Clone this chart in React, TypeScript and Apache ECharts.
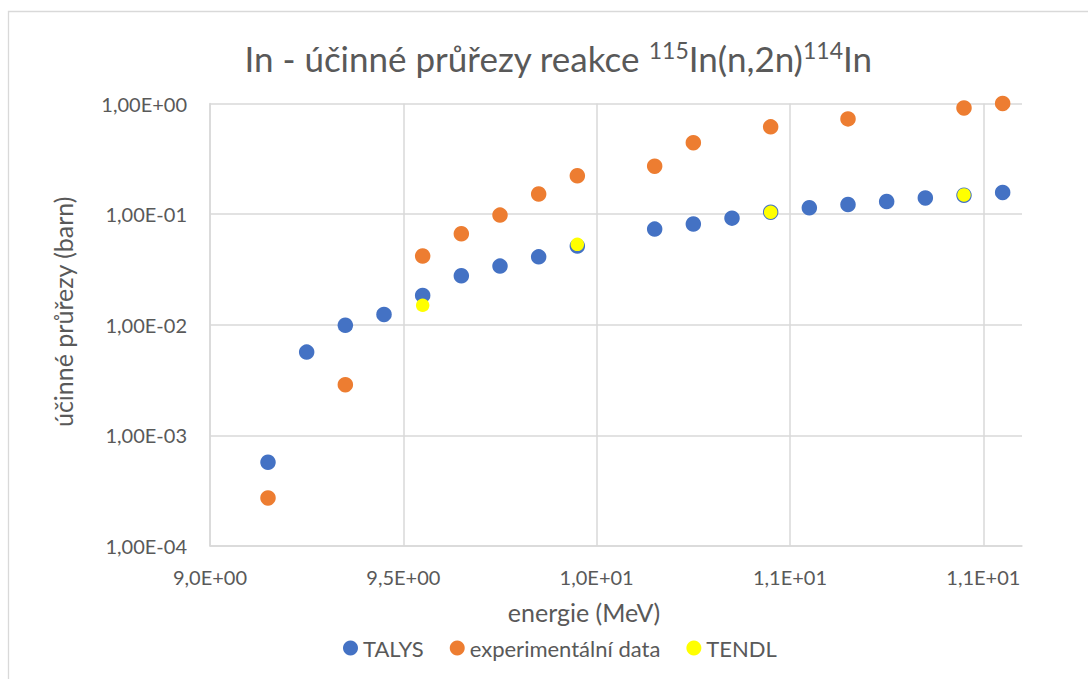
import React, { useEffect, useRef } from "react";
import * as echarts from "echarts";

const talysEnergy = [9.15, 9.25, 9.35, 9.45, 9.55, 9.65, 9.75, 9.85, 9.95, 10.15, 10.25, 10.35, 10.45, 10.55, 10.65, 10.75, 10.85, 10.95, 11.05];
const talysValues = [5.71e-4, 5.66e-3, 9.88e-3, 1.24e-2, 1.84e-2, 2.77e-2, 3.39e-2, 4.11e-2, 5.14e-2, 7.32e-2, 8.13e-2, 9.2e-2, 1.04e-1, 1.14e-1, 1.22e-1, 1.30e-1, 1.40e-1, 1.48e-1, 1.57e-1];

const expEnergy = [9.15, 9.35, 9.55, 9.65, 9.75, 9.85, 9.95, 10.15, 10.25, 10.45, 10.65, 10.95, 11.05];
const expValues = [2.72e-4, 2.87e-3, 4.18e-2, 6.64e-2, 9.8e-2, 1.52e-1, 2.22e-1, 2.71e-1, 4.42e-1, 6.15e-1, 7.26e-1, 9.12e-1, 1.0];

const tendlEnergy = [9.55, 9.95, 10.45, 10.95];
const tendlValues = [1.5e-2, 5.33e-2, 1.04e-1, 1.49e-1];

const seriesNames = ["TALYS", "experimentální data", "TENDL"];
const xAxisTitle = "energie (MeV)";
const yAxisTitle = "účinné průřezy (barn)";

const FONT = "Lato";
const TXT = "#595959";
const GRID = "#d9d9d9";

function sci(v: number, digits: number): string {
  const s = Number(v).toExponential(digits);
  const [m, e] = s.split("e");
  const sign = e[0] === "-" ? "-" : "+";
  const ex = Math.abs(parseInt(e, 10)).toString().padStart(2, "0");
  return m.replace(".", ",") + "E" + sign + ex;
}

function pairs(xs: number[], ys: number[]) {
  return xs.map((x, i) => [x, ys[i]]);
}

export default function App() {
  const ref = useRef<HTMLDivElement>(null);
  useEffect(() => {
    if (!ref.current) return;
    const chart = echarts.init(ref.current, undefined, { renderer: "svg" });
    chart.setOption({
      animation: false,
      backgroundColor: "#ffffff",
      title: {
        text: "{t|In - účinné průřezy reakce }{s|115}{t|In(n,2n)}{s|114}{t|In}",
        left: 553,
        top: 33,
        textAlign: "center",
        textStyle: {
          fontWeight: "normal",
          rich: {
            t: { fontFamily: FONT, fontSize: 35, fontWeight: "normal", color: TXT, lineHeight: 40 },
            s: { fontFamily: FONT, fontSize: 23, fontWeight: "normal", color: TXT, lineHeight: 26, verticalAlign: "top" },
          },
        },
      },
      graphic: [
        {
          type: "rect",
          shape: { x: 8.5, y: 11.5, width: 1100, height: 700 },
          style: { fill: "none", stroke: GRID, lineWidth: 1.3 },
          silent: true,
        },
      ],
      legend: {
        data: seriesNames,
        top: 632,
        left: 338,
        padding: 5,
        icon: "circle",
        itemWidth: 15,
        itemHeight: 15,
        itemGap: 26,
        textStyle: { fontFamily: FONT, fontSize: 22, color: TXT },
      },
      grid: { left: 210, right: 66, top: 103.5, bottom: 133 },
      xAxis: {
        type: "value",
        min: 9,
        max: 11.1,
        interval: 0.5,
        name: xAxisTitle,
        nameLocation: "middle",
        nameGap: 53,
        nameTextStyle: { fontFamily: FONT, fontSize: 25, color: TXT, padding: [0, 64, 0, 0] },
        axisLine: { show: true, lineStyle: { color: GRID, width: 1.5 } },
        axisTick: { show: false },
        axisLabel: {
          fontFamily: FONT,
          fontSize: 20,
          color: TXT,
          margin: 21,
          showMaxLabel: false,
          formatter: (v: number) => (Math.abs(v * 2 - Math.round(v * 2)) > 1e-6 ? "" : sci(v, 1)),
        },
        splitLine: { show: true, showMaxLine: false, lineStyle: { color: GRID, width: 1.5 } },
      },
      yAxis: {
        type: "log",
        logBase: 10,
        min: 1e-4,
        max: 1,
        name: yAxisTitle,
        nameLocation: "middle",
        nameGap: 135,
        nameRotate: 90,
        nameTextStyle: { fontFamily: FONT, fontSize: 25, color: TXT, padding: [0, 0, 0, 26] },
        axisLine: { show: true, lineStyle: { color: GRID, width: 1.5 } },
        axisTick: { show: false },
        axisLabel: {
          fontFamily: FONT,
          fontSize: 20,
          color: TXT,
          margin: 23,
          formatter: (v: number) => sci(v, 2),
        },
        splitLine: { show: true, lineStyle: { color: GRID, width: 1.5 } },
      },
      series: [
        {
          name: seriesNames[0],
          type: "scatter",
          data: pairs(talysEnergy, talysValues),
          symbol: "circle",
          symbolSize: 15.5,
          itemStyle: { color: "#4472C4", opacity: 1 },
        },
        {
          name: seriesNames[1],
          type: "scatter",
          data: pairs(expEnergy, expValues),
          symbol: "circle",
          symbolSize: 15.5,
          itemStyle: { color: "#ED7D31", opacity: 1 },
        },
        {
          name: seriesNames[2],
          type: "scatter",
          data: pairs(tendlEnergy, tendlValues),
          symbol: "circle",
          symbolSize: 13.5,
          itemStyle: { color: "#FFFF00", opacity: 1 },
        },
      ],
    });
    return () => chart.dispose();
  }, []);
  return (
    <div
      ref={ref}
      style={{ position: "fixed", left: 0, top: 0, width: 1088, height: 679, background: "#fff" }}
    />
  );
}
